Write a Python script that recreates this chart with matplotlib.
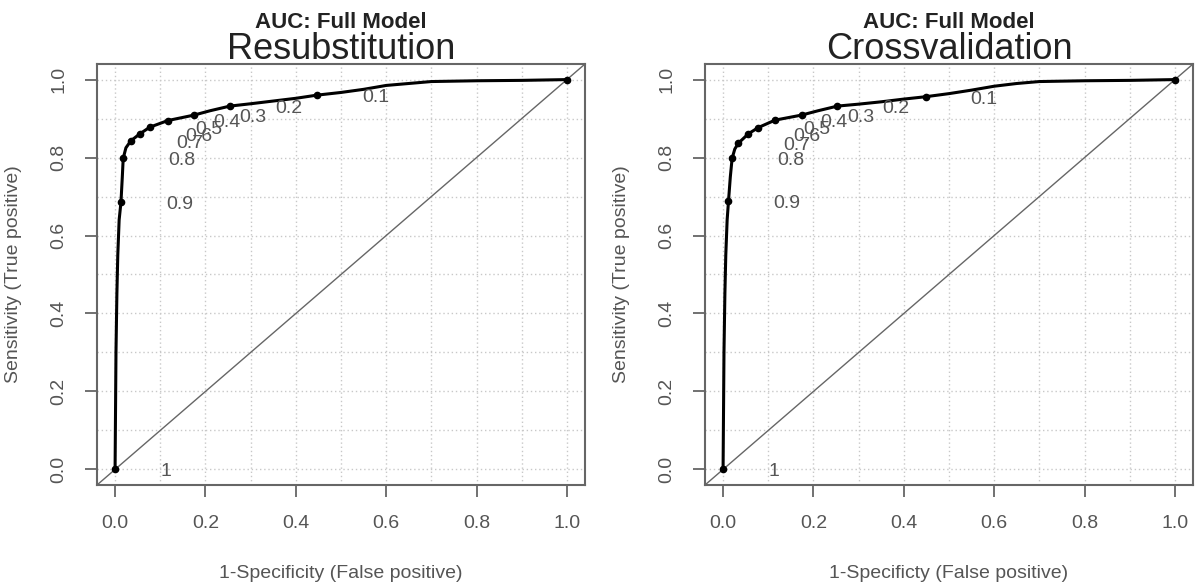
import numpy as np
import matplotlib
matplotlib.use("Agg")
import matplotlib.pyplot as plt

plt.rcParams['font.family'] = ['Liberation Sans', 'DejaVu Sans']

# ROC curves
fpr_resub = [0, 0.002, 0.004, 0.006, 0.009, 0.013, 0.016, 0.018, 0.024, 0.035, 0.055, 0.077,
             0.117, 0.175, 0.21, 0.254, 0.3, 0.35, 0.4, 0.446, 0.5, 0.55, 0.6, 0.65, 0.7, 0.8, 0.9, 1.0]
tpr_resub = [0, 0.3, 0.45, 0.55, 0.64, 0.685, 0.75, 0.798, 0.825, 0.843, 0.861, 0.878,
             0.895, 0.909, 0.92, 0.932, 0.938, 0.945, 0.952, 0.96, 0.967, 0.975, 0.985, 0.99, 0.995, 0.997, 0.998, 1.0]

fpr_cv = [0, 0.002, 0.004, 0.006, 0.009, 0.012, 0.016, 0.020, 0.026, 0.034, 0.056, 0.078,
          0.115, 0.174, 0.21, 0.253, 0.3, 0.35, 0.4, 0.448, 0.5, 0.55, 0.6, 0.65, 0.7, 0.8, 0.9, 1.0]
tpr_cv = [0, 0.3, 0.45, 0.55, 0.64, 0.688, 0.75, 0.798, 0.822, 0.837, 0.861, 0.877,
          0.896, 0.909, 0.92, 0.932, 0.937, 0.943, 0.95, 0.956, 0.964, 0.973, 0.983, 0.99, 0.995, 0.997, 0.998, 1.0]

# cutoff markers (the last dot, at (1, 1), has its label clipped away)
cut_labels = ['1', '0.9', '0.8', '0.7', '0.6', '0.5', '0.4', '0.3', '0.2', '0.1']
cut_x_resub = [0, 0.013, 0.018, 0.035, 0.055, 0.077, 0.117, 0.175, 0.254, 0.446, 1.0]
cut_y_resub = [0, 0.685, 0.798, 0.843, 0.861, 0.878, 0.895, 0.909, 0.932, 0.96, 1.0]
cut_x_cv = [0, 0.012, 0.020, 0.034, 0.056, 0.078, 0.115, 0.174, 0.253, 0.448, 1.0]
cut_y_cv = [0, 0.688, 0.798, 0.837, 0.861, 0.877, 0.896, 0.909, 0.932, 0.956, 1.0]

panels = [
    ("Resubstitution", "1-Specificity (False positive)", fpr_resub, tpr_resub, cut_x_resub, cut_y_resub),
    ("Crossvalidation", "1-Specificty (False positive)", fpr_cv, tpr_cv, cut_x_cv, cut_y_cv),
]

GREY = '#555555'
fig = plt.figure(figsize=(11.98, 5.84), dpi=100)
lefts = [97 / 1198, 705 / 1198]

for left, (name, xlab, fpr, tpr, cx, cy) in zip(lefts, panels):
    ax = fig.add_axes([left, 99 / 584, 488 / 1198, 421 / 584])
    ax.set_xlim(-0.04, 1.04)
    ax.set_ylim(-0.04, 1.04)

    ticks = np.arange(0, 1.01, 0.2)
    ax.set_xticks(ticks)
    ax.set_yticks(ticks)
    ax.set_xticklabels([f"{t:.1f}" for t in ticks])
    ax.set_yticklabels([f"{t:.1f}" for t in ticks], rotation=90, va='center')
    ax.set_xticks(np.arange(0.1, 1.0, 0.2), minor=True)
    ax.set_yticks(np.arange(0.1, 1.0, 0.2), minor=True)
    ax.tick_params(which='major', length=8.5, width=1.3, color='#666666', labelsize=14,
                   labelcolor=GREY, pad=13)
    ax.tick_params(which='minor', length=0)
    ax.grid(True, which='both', color='#c8c8c8', linestyle=(0, (1, 2)), linewidth=1)
    ax.set_axisbelow(True)
    for sp in ax.spines.values():
        sp.set_color('#666666')
        sp.set_linewidth(1.5)

    ax.axline((0, 0), (1, 1), color='#666666', linewidth=1)
    ax.plot(fpr, tpr, color='black', linewidth=2.2, zorder=3)
    ax.plot(cx, cy, 'o', color='black', markersize=4.5, zorder=4)
    for x, y, lab in zip(cx, cy, cut_labels):
        ax.text(x + 0.10, y - 0.006, lab, fontsize=14, color=GREY, ha='left', va='center',
                clip_on=True)

    ax.set_xlabel(xlab, fontsize=14, color=GREY)
    ax.set_ylabel("Sensitivity (True positive)", fontsize=14, color=GREY)
    ax.xaxis.set_label_coords(0.5, -0.19)
    ax.yaxis.set_label_coords(-0.154, 0.5)

    ax.text(0.5, 1.012, name, transform=ax.transAxes, ha='center', va='baseline',
            fontsize=26, color='#222222')
    ax.text(0.5, 1.086, "AUC: Full Model", transform=ax.transAxes, ha='center', va='baseline',
            fontsize=16, fontweight='bold', color='#222222')

fig.savefig("out.png", dpi=100)
